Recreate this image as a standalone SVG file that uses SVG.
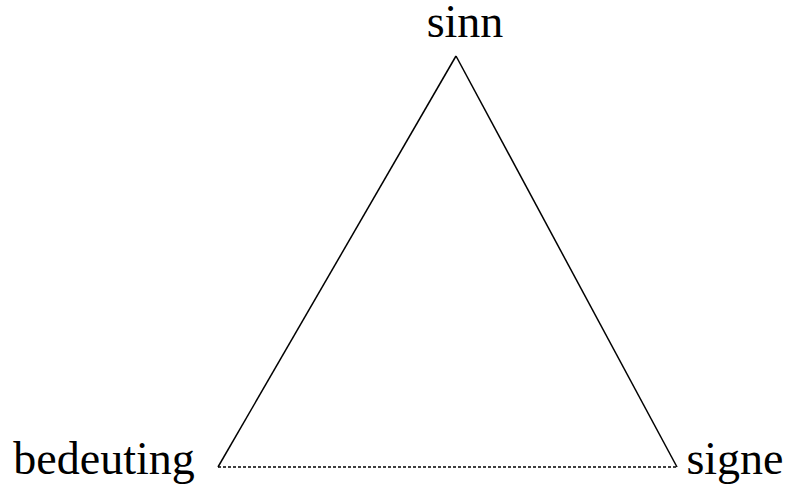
<svg xmlns="http://www.w3.org/2000/svg" width="785" height="489" viewBox="0 0 785 489">
<style>
.lbl{font-family:"Liberation Serif","Times New Roman",serif;font-size:46px;fill:#000}
.edge{stroke:#000;stroke-width:1.5;fill:none}
.dash{stroke:#000;stroke-width:1.3;stroke-dasharray:3,2;fill:none}
</style>
<rect width="785" height="489" fill="#fff"/>
<g id="connectors">
<line class="edge" x1="456" y1="56" x2="218" y2="467"/>
<line class="edge" x1="456" y1="56" x2="677" y2="467"/>
<line class="dash" x1="218" y1="467" x2="677" y2="467"/>
</g>
<g id="sinn"><text class="lbl" x="465" y="37" text-anchor="middle">sinn</text></g>
<g id="bedeuting"><text class="lbl" x="104" y="474" text-anchor="middle">bedeuting</text></g>
<g id="signe"><text class="lbl" x="735" y="474" text-anchor="middle">signe</text></g>
</svg>
